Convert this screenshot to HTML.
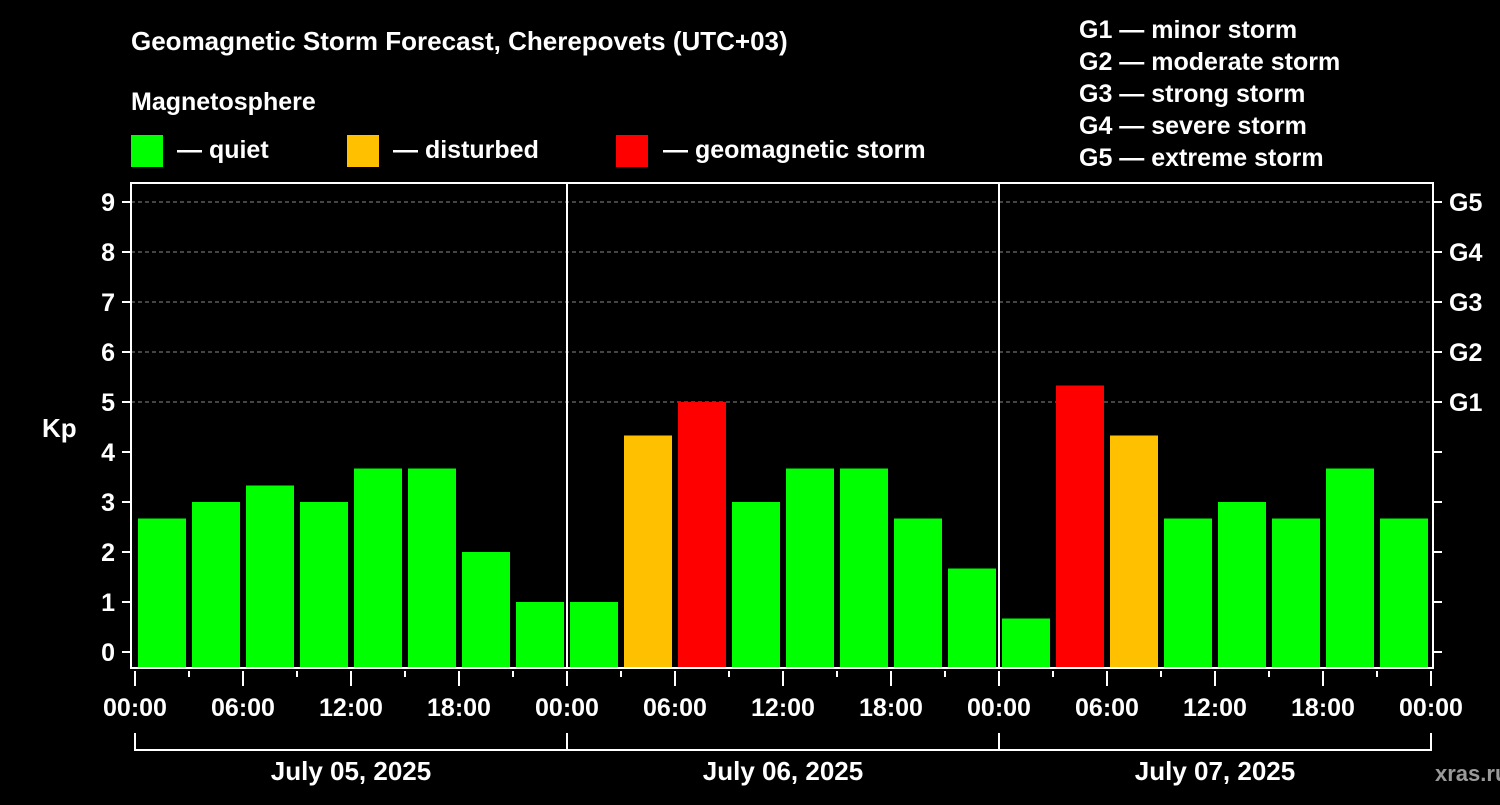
<!DOCTYPE html>
<html><head><meta charset="utf-8"><style>
body{margin:0;background:#000;}
svg text{font-family:"Liberation Sans",Arial,sans-serif;font-weight:bold;fill:#fff;}
</style></head><body>
<svg id="c" width="1500" height="800" xmlns="http://www.w3.org/2000/svg">
<rect width="1500" height="800" fill="#000"/>
<text x="131" y="50" font-size="26">Geomagnetic Storm Forecast, Cherepovets (UTC+03)</text>
<text x="131" y="110" font-size="25">Magnetosphere</text>
<rect x="131" y="135" width="32" height="32" fill="#00ff00"/>
<text x="177" y="158" font-size="25">— quiet</text>
<rect x="347" y="135" width="32" height="32" fill="#ffc000"/>
<text x="393" y="158" font-size="25">— disturbed</text>
<rect x="616" y="135" width="32" height="32" fill="#ff0000"/>
<text x="663" y="158" font-size="25">— geomagnetic storm</text>
<g font-size="25">
<text x="1079" y="38">G1 — minor storm</text>
<text x="1079" y="70">G2 — moderate storm</text>
<text x="1079" y="102">G3 — strong storm</text>
<text x="1079" y="134">G4 — severe storm</text>
<text x="1079" y="166">G5 — extreme storm</text>
</g>
<text x="42" y="437" font-size="26">Kp</text>
<text x="1435" y="781" font-size="22" fill="#999" style="fill:#9a9a9a">xras.ru</text>
<g id="plot"></g>
</svg>
<script>
const kpValues=[2.67,3,3.33,3,3.67,3.67,2,1, 1,4.33,5,3,3.67,3.67,2.67,1.67, 0.67,5.33,4.33,2.67,3,2.67,3.67,2.67];
const dayLabels=["July 05, 2025","July 06, 2025","July 07, 2025"];
const hourLabels=["00:00","06:00","12:00","18:00"];
const kpTicks=[0,1,2,3,4,5,6,7,8,9];
const gLabels=["G1","G2","G3","G4","G5"];
const NS="http://www.w3.org/2000/svg";
const g=document.getElementById('plot');
const X0=135,HOUR=18,L=131,R=1433,T=183,B=668;
const y=v=>652-v*50;
const x=h=>X0+h*HOUR;
function mk(t,a){const e=document.createElementNS(NS,t);for(const k in a)e.setAttribute(k,a[k]);g.appendChild(e);return e;}
kpTicks.forEach(k=>{
 if(k>=5){const l=mk('line',{x1:L,x2:R,y1:y(k),y2:y(k),stroke:'#888','stroke-dasharray':'4,3','stroke-width':1});
 
 }
 const t=mk('line',{x1:L-9,x2:L,y1:y(k),y2:y(k),stroke:'#fff','stroke-width':2});
 
 
 const t2=mk('line',{x1:R,x2:R+9,y1:y(k),y2:y(k),stroke:'#fff','stroke-width':2});
 
 
 const tx=mk('text',{x:L-16,y:y(k)+9,'font-size':25,'text-anchor':'end'});tx.textContent=k;
 
 
});
gLabels.forEach((s,i)=>{
 const tx=mk('text',{x:R+16,y:y(5+i)+9,'font-size':25});tx.textContent=s;
 
 
});
kpValues.forEach((v,i)=>{
 const c=v>=5?'#ff0000':v>=4?'#ffc000':'#00ff00';
 const r=mk('rect',{x:x(i*3)+3,y:y(v),width:3*HOUR-6,height:B-y(v),fill:c});
 
 
});
[1,2].forEach(d=>{const l=mk('line',{x1:x(d*24),x2:x(d*24),y1:T,y2:B,stroke:'#fff','stroke-width':2});
 
 });
const box=mk('rect',{x:L,y:T,width:R-L,height:B-T,fill:'none',stroke:'#fff','stroke-width':2});


for(let h=0;h<=72;h+=3){
 const major=h%6===0;
 const l=mk('line',{x1:x(h),x2:x(h),y1:B+3,y2:major?B+18:B+9,stroke:'#fff','stroke-width':2});
 
 
 if(major){const tx=mk('text',{x:x(h),y:716,'font-size':25,'text-anchor':'middle'});
  tx.textContent=hourLabels[(h%24)/6];
  
  }
}
dayLabels.forEach((s,d)=>{
 const p=mk('path',{d:`M${x(d*24)},733V750H${x(d*24+24)}V733`,fill:'none',stroke:'#fff','stroke-width':2});
 
 
 const tx=mk('text',{x:x(d*24+12),y:780,'font-size':26,'text-anchor':'middle'});tx.textContent=s;
 
 
});
</script>
</body></html>
